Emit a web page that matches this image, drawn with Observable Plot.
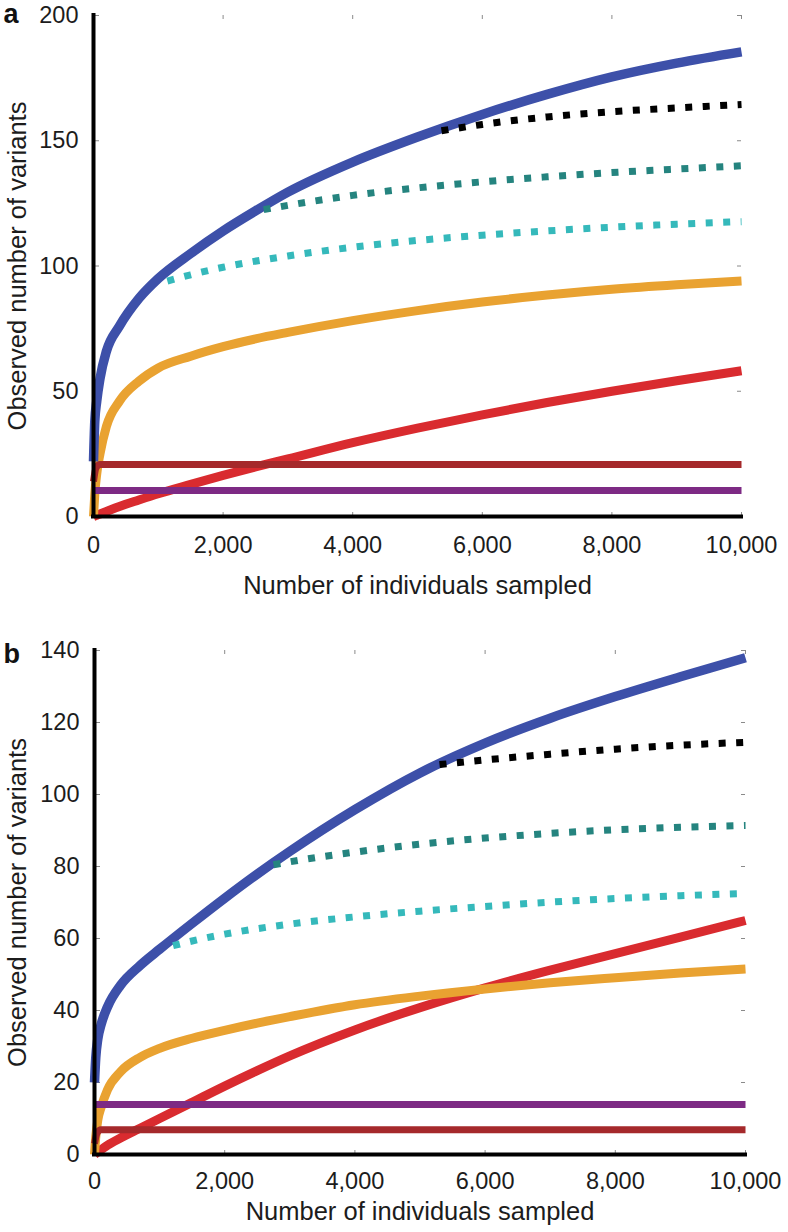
<!DOCTYPE html>
<html><head><meta charset="utf-8">
<script src="https://cdn.jsdelivr.net/npm/d3@7"></script>
<script src="https://cdn.jsdelivr.net/npm/@observablehq/plot@0.6"></script>
<style>
html,body{margin:0;padding:0;background:#fff;}
#chart{width:788px;}
#chart svg{display:block;}
</style></head><body><div id="chart"></div>
<script>
// ---------- shared ----------
const xTicks = [0, 2000, 4000, 6000, 8000, 10000];
const xLabel = "Number of individuals sampled";
const yLabel = "Observed number of variants";
const sampleX = [0, 20, 50, 100, 200, 400, 700, 1000, 1500, 2000, 2500, 3000, 4000, 5000, 6000, 7000, 8000, 9000, 10000];

// ---------- panel a ----------
const aLetter = "a";
const aYTicks = [0, 50, 100, 150, 200];
const aBlue   = [22, 38, 46, 55, 66, 76, 87, 95, 105, 114, 122, 129.5, 141.5, 151.5, 160.5, 168.5, 175.5, 181, 185.5];
const aOrange = [0, 9, 17, 25, 36, 46, 54, 59.3, 64, 67.8, 70.9, 73.5, 78.2, 82.2, 85.6, 88.4, 90.7, 92.5, 94];
const aRed    = [0, 0.2, 0.5, 1, 2, 4, 6.6, 9.1, 12.8, 16.4, 19.8, 23, 29.5, 35.3, 40.6, 45.5, 50, 54.2, 58.2];
const aBlackX = [5370, 6000, 7000, 8000, 9000, 10000];
const aBlackY = [154, 156.5, 159.5, 161.6, 163.1, 164.5];
const aTealX  = [2626, 3000, 4000, 5000, 6000, 7000, 8000, 9000, 10000];
const aTealY  = [122.5, 124.2, 128.2, 131.2, 133.6, 135.6, 137.3, 138.7, 140];
const aCyanX  = [1140, 1500, 2000, 3000, 4000, 5000, 6000, 7000, 8000, 9000, 10000];
const aCyanY  = [94, 96.5, 99.5, 104, 107.5, 110.2, 112.3, 114, 115.5, 116.7, 117.7];
const aDarkRedX = [0, 40, 100, 10000];
const aDarkRedY = [14, 19.5, 20.8, 20.8];
const aPurpleX  = [0, 10000];
const aPurpleY  = [10.4, 10.4];

// ---------- panel b ----------
const bLetter = "b";
const bYTicks = [0, 20, 40, 60, 80, 100, 120, 140];
const bBlue   = [20, 27, 32, 36, 41, 47, 52.5, 57, 64.2, 71.2, 77.9, 84.2, 95.8, 106, 114.3, 121.2, 127.2, 132.7, 138];
const bOrange = [0, 5, 9.5, 13, 18, 23, 27, 29.5, 32.3, 34.5, 36.5, 38.3, 41.6, 44, 46, 47.7, 49.1, 50.4, 51.5];
const bRed    = [0, 0.3, 0.7, 1.3, 2.6, 4.6, 7.3, 10, 14.5, 19, 23.3, 27.4, 34.6, 40.8, 46.3, 51.2, 55.8, 60.4, 65];
const bBlackX = [5300, 6000, 7000, 8000, 9000, 10000];
const bBlackY = [108.3, 109.6, 111.2, 112.6, 113.7, 114.5];
const bTealX  = [2750, 3000, 4000, 5000, 6000, 7000, 8000, 9000, 10000];
const bTealY  = [80.5, 81.3, 84, 86.2, 87.9, 89.2, 90.2, 90.9, 91.4];
const bCyanX  = [1207, 1500, 2000, 3000, 4000, 5000, 6000, 7000, 8000, 9000, 10000];
const bCyanY  = [58, 59.3, 61.2, 64, 66, 67.6, 68.9, 70.1, 71.1, 71.9, 72.5];
const bDarkRedX = [0, 40, 100, 10000];
const bDarkRedY = [3, 6, 6.9, 6.9];
const bPurpleX  = [0, 10000];
const bPurpleY  = [13.9, 13.9];

// ---------- colours ----------
const C = {
  blue: "#3d50a9", orange: "#e9a231", red: "#d92b2f", darkred: "#a5292b",
  purple: "#7d2a84", teal: "#25847f", cyan: "#35b9bb", black: "#000000"
};

const rows = (xs, ys) => xs.map((x, i) => ({x, y: ys[i]}));

function panel(p) {
  const innerH = p.height - p.mt - p.mb;
  const innerW = 788 - p.ml - p.mr;
  const solid = (data, color, w) => Plot.line(data, {x: "x", y: "y", stroke: color, strokeWidth: w, curve: "monotone-x", strokeLinejoin: "round", strokeLinecap: "butt"});
  const dotted = (data, color) => Plot.line(data, {x: "x", y: "y", stroke: color, strokeWidth: 7, strokeDasharray: "7,10.5", strokeLinecap: "butt", curve: "monotone-x"});
  return Plot.plot({
    width: 788, height: p.height,
    marginTop: p.mt, marginBottom: p.mb, marginLeft: p.ml, marginRight: p.mr,
    style: {fontFamily: "'Liberation Sans', Arial, Helvetica, sans-serif", fontSize: "23.5px", color: "#1c1c1c", background: "#fff", overflow: "visible"},
    x: {domain: [0, 10000], axis: null, label: null},
    y: {domain: [0, p.yTicks[p.yTicks.length - 1]], axis: null, label: null},
    marks: [
      // faint inward box ticks
      Plot.tickX(xTicks.slice(1), {x: d => d, insetBottom: innerH - 4, stroke: "#8a8a8a", strokeWidth: 1}),
      Plot.tickX(xTicks.slice(1), {x: d => d, insetTop: innerH - 4, stroke: "#8a8a8a", strokeWidth: 1}),
      Plot.tickY(p.yTicks.slice(1), {y: d => d, insetLeft: innerW - 4, stroke: "#8a8a8a", strokeWidth: 1}),
      Plot.tickY(p.yTicks.slice(1), {y: d => d, insetRight: innerW - 6, stroke: "#8a8a8a", strokeWidth: 1}),
      // series
      ...p.order.map(k => {
        const s = p.series[k];
        return s.dotted ? dotted(s.data, s.color) : solid(s.data, s.color, s.w);
      }),
      // axis lines
      Plot.ruleX([0], {x: d => d, stroke: "#000", strokeWidth: 4, strokeLinecap: "square"}),
      Plot.ruleY([0], {y: d => d, stroke: "#000", strokeWidth: 4, strokeLinecap: "square"}),
      // tick labels
      Plot.axisX({anchor: "bottom", ticks: xTicks, tickSize: 0, tickPadding: p.xPad, tickFormat: d3.format(","), label: null, fontSize: 23.5}),
      Plot.axisY({anchor: "left", ticks: p.yTicks, tickSize: 0, tickPadding: 15, tickFormat: d => String(d), label: null, fontSize: 23.5}),
      // axis titles and panel letter
      Plot.text([xLabel], {frameAnchor: "bottom", dy: p.xLabDy, text: d => d, fontSize: 25.5, textAnchor: "middle", lineAnchor: "middle"}),
      Plot.text([yLabel], {frameAnchor: "left", dx: 17 - p.ml, rotate: -90, text: d => d, fontSize: 25.5, textAnchor: "middle", lineAnchor: "middle"}),
      Plot.text([p.letter], {frameAnchor: "top-left", dx: 3 - p.ml, dy: p.letterDy, textAnchor: "start", lineAnchor: "middle", fontWeight: "bold", fontSize: 27, fill: "#111"})
    ]
  });
}

const mk = (xs, ys, color, w, dotted) => ({data: rows(xs, ys), color, w, dotted});
const aSeries = {
  darkred: mk(aDarkRedX, aDarkRedY, C.darkred, 7),
  purple:  mk(aPurpleX, aPurpleY, C.purple, 7),
  red:     mk(sampleX, aRed, C.red, 9),
  orange:  mk(sampleX, aOrange, C.orange, 9),
  blue:    mk(sampleX, aBlue, C.blue, 9.5),
  cyan:    mk(aCyanX, aCyanY, C.cyan, 7, true),
  teal:    mk(aTealX, aTealY, C.teal, 7, true),
  black:   mk(aBlackX, aBlackY, C.black, 7, true)
};
const bSeries = {
  darkred: mk(bDarkRedX, bDarkRedY, C.darkred, 7),
  purple:  mk(bPurpleX, bPurpleY, C.purple, 7),
  red:     mk(sampleX, bRed, C.red, 9),
  orange:  mk(sampleX, bOrange, C.orange, 9),
  blue:    mk(sampleX, bBlue, C.blue, 9.5),
  cyan:    mk(bCyanX, bCyanY, C.cyan, 7, true),
  teal:    mk(bTealX, bTealY, C.teal, 7, true),
  black:   mk(bBlackX, bBlackY, C.black, 7, true)
};
const order = ["red", "orange", "darkred", "purple", "blue", "cyan", "teal", "black"];

const chart = document.getElementById("chart");
chart.append(panel({letter: aLetter, yTicks: aYTicks, series: aSeries, order,
  height: 616, mt: 15, mb: 100, ml: 93, mr: 47, xPad: 20, xLabDy: 69, letterDy: -1}));
chart.append(panel({letter: bLetter, yTicks: bYTicks, series: bSeries, order,
  height: 616, mt: 34, mb: 78, ml: 94, mr: 43, xPad: 18, xLabDy: 57, letterDy: 4}));
</script>
</body></html>
